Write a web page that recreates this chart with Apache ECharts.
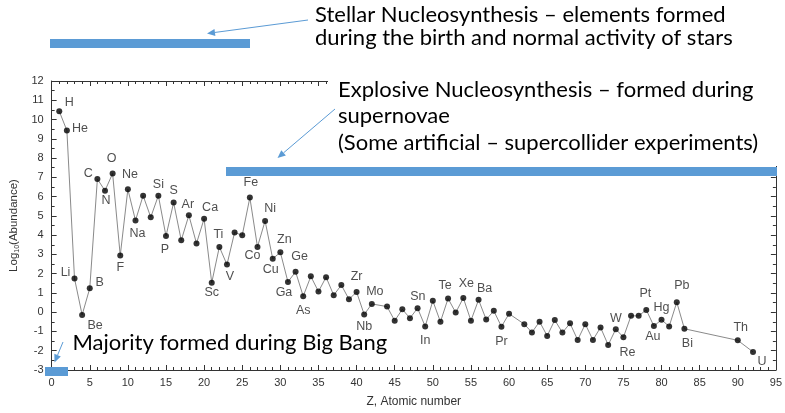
<!DOCTYPE html>
<html>
<head>
<meta charset="utf-8">
<script src="https://cdn.jsdelivr.net/npm/echarts/dist/echarts.min.js"></script>
<style>
  html, body { margin: 0; padding: 0; background: #fff; }
  #chart { width: 785px; height: 413px; }
</style>
</head>
<body>
<div id="chart"></div>
<script>
// elements (Z, symbol) and log10 abundance
var atomicNumbers = [1, 2, 3, 4, 5, 6, 7, 8, 9, 10, 11, 12, 13, 14, 15, 16, 17, 18, 19, 20,
  21, 22, 23, 24, 25, 26, 27, 28, 29, 30, 31, 32, 33, 34, 35, 36, 37, 38, 39, 40,
  41, 42, 44, 45, 46, 47, 48, 49, 50, 51, 52, 53, 54, 55, 56, 57, 58, 59, 60,
  62, 63, 64, 65, 66, 67, 68, 69, 70, 71, 72, 73, 74, 75, 76, 77, 78, 79, 80,
  81, 82, 83, 90, 92];
var symbols = ["H", "He", "Li", "Be", "B", "C", "N", "O", "F", "Ne", "Na", "Mg", "Al", "Si", "P", "S", "Cl", "Ar", "K", "Ca",
  "Sc", "Ti", "V", "Cr", "Mn", "Fe", "Co", "Ni", "Cu", "Zn", "Ga", "Ge", "As", "Se", "Br", "Kr", "Rb", "Sr", "Y", "Zr",
  "Nb", "Mo", "Ru", "Rh", "Pd", "Ag", "Cd", "In", "Sn", "Sb", "Te", "I", "Xe", "Cs", "Ba", "La", "Ce", "Pr", "Nd",
  "Sm", "Eu", "Gd", "Tb", "Dy", "Ho", "Er", "Tm", "Yb", "Lu", "Hf", "Ta", "W", "Re", "Os", "Ir", "Pt", "Au", "Hg",
  "Tl", "Pb", "Bi", "Th", "U"];
var logAbundance = [10.43, 9.43, 1.75, -0.14, 1.24, 6.91, 6.31, 7.20, 2.94, 6.38, 4.76, 6.05, 4.93, 6.05, 3.95, 5.69, 3.73, 5.03, 3.57, 4.85,
  1.53, 3.39, 2.47, 4.14, 3.99, 5.95, 3.39, 4.74, 2.77, 3.11, 1.57, 2.10, 0.83, 1.86, 1.07, 1.82, 0.88, 1.41, 0.67, 1.05,
  -0.12, 0.43, 0.29, -0.44, 0.15, -0.31, 0.21, -0.74, 0.59, -0.50, 0.71, -0.02, 0.74, -0.44, 0.64, -0.38, 0.07, -0.75, -0.08,
  -0.62, -1.05, -0.49, -1.23, -0.41, -1.06, -0.58, -1.44, -0.62, -1.44, -0.79, -1.70, -0.88, -1.30, -0.19, -0.19, 0.12, -0.72, -0.39,
  -0.74, 0.52, -0.86, -1.46, -2.06];

// which symbols get a text label, and where it sits relative to the dot (px)
var labelOffsets = {
  H: [10, -9], He: [13, -2], Li: [-9, -6], Be: [13, 11], B: [10, -6], C: [-9, -6], N: [1, 10], O: [-1, -15],
  F: [0, 12], Ne: [2, -15], Na: [2, 13], Si: [0, -11], P: [-1, 13], S: [0, -12], Ar: [-1, -11], Ca: [6, -11],
  Sc: [0, 10], Ti: [-1, -12], V: [3, 12], Fe: [1, -15], Co: [-5, 9], Ni: [5, -12], Cu: [-2, 11], Zn: [4, -13],
  Ga: [-4, 11], Ge: [4, -15], As: [0, 14], Zr: [0, -15], Nb: [0, 12], Mo: [3, -12], Sn: [-15, -4], In: [0, 14],
  Te: [-3, -13], Xe: [3, -14], Ba: [6, -11], Pr: [0, 15], W: [0, -11], Re: [4, 15], Pt: [-1, -16], Hg: [0, -12],
  Au: [-1, 10], Pb: [5, -17], Bi: [3, 15], Th: [3, -13], U: [9, 10]
};

var blue = "#5B9BD5";
var textFont = "22px Lato";

function arrow(x1, y1, x2, y2) {
  var ang = Math.atan2(y2 - y1, x2 - x1);
  var len = 8, half = 3.5;
  var bx = x2 - len * Math.cos(ang), by = y2 - len * Math.sin(ang);
  var px = -Math.sin(ang) * half, py = Math.cos(ang) * half;
  return [
    { type: "line", z: 100, shape: { x1: x1, y1: y1, x2: bx, y2: by }, style: { stroke: blue, lineWidth: 1 } },
    { type: "polygon", z: 100, shape: { points: [[x2, y2], [bx + px, by + py], [bx - px, by - py]] }, style: { fill: blue } }
  ];
}

function note(str, x, y) {
  return { type: "text", z: 102, x: x, y: y, style: { text: str, font: textFont, fill: "#000", verticalAlign: "middle" } };
}

var chart = echarts.init(document.getElementById("chart"));

var lineData = atomicNumbers.map(function (z, i) {
  return [z, logAbundance[i]];
});
var dotData = atomicNumbers.map(function (z, i) {
  var off = labelOffsets[symbols[i]];
  var item = { value: [z, logAbundance[i]], name: symbols[i] };
  if (off) {
    item.label = { show: true, position: "inside", offset: off, formatter: symbols[i] };
  }
  return item;
});

var axisCommon = {
  axisLine: { show: true, onZero: false, lineStyle: { color: "#333", width: 1 } },
  axisTick: { show: true, inside: true, length: 5, lineStyle: { color: "#333" } },
  minorTick: { show: true, length: 3, lineStyle: { color: "#333" } },
  splitLine: { show: false },
  minorSplitLine: { show: false }
};

var option = {
  animation: false,
  backgroundColor: "#fff",
  grid: { left: 48, right: 6, top: 81, bottom: 41 },
  xAxis: [
    Object.assign({}, axisCommon, {
      type: "value", position: "bottom", min: 0, max: 95, interval: 5,
      minorTick: Object.assign({}, axisCommon.minorTick, { splitNumber: 5 }),
      axisLabel: { color: "#333", fontSize: 11, fontFamily: "Liberation Sans", margin: 7 },
      name: "Z, Atomic number", nameLocation: "middle", nameGap: 26,
      nameTextStyle: { color: "#333", fontSize: 12, fontFamily: "Liberation Sans" }
    }),
    Object.assign({}, axisCommon, {
      type: "value", position: "top", min: 0, max: 95, interval: 5,
      minorTick: Object.assign({}, axisCommon.minorTick, { splitNumber: 5 }),
      axisLabel: { show: false }
    })
  ],
  yAxis: [
    Object.assign({}, axisCommon, {
      type: "value", position: "left", min: -3, max: 12, interval: 1,
      minorTick: Object.assign({}, axisCommon.minorTick, { splitNumber: 2 }),
      axisLabel: { color: "#333", fontSize: 11, fontFamily: "Liberation Sans", margin: 8 },
      name: "{n|Log}{s|10}{n|(Abundance)}", nameLocation: "middle", nameGap: 28,
      nameTextStyle: {
        color: "#333",
        rich: {
          n: { fontSize: 11.5, fontFamily: "Liberation Sans", color: "#333" },
          s: { fontSize: 7, fontFamily: "Liberation Sans", color: "#333", padding: [6, 0, 0, 0] }
        }
      }
    }),
    Object.assign({}, axisCommon, {
      type: "value", position: "right", min: -3, max: 12, interval: 1,
      minorTick: Object.assign({}, axisCommon.minorTick, { splitNumber: 2 }),
      axisLabel: { show: false }
    })
  ],
  series: [
    {
      type: "line",
      data: lineData,
      showSymbol: false,
      silent: true,
      lineStyle: { color: "#8a8a8a", width: 1 },
      z: 2
    },
    {
      type: "scatter",
      data: dotData,
      symbolSize: 6,
      itemStyle: { color: "#000" },
      label: { show: false, color: "#222", fontSize: 12.5, fontFamily: "Liberation Sans" },
      z: 3
    }
  ],
  graphic: [].concat(
    [
      // text box covering the top-right of the frame
      { type: "rect", z: 99, shape: { x: 328, y: 70, width: 457, height: 96 }, style: { fill: "#fff" } },
      { type: "rect", z: 101, shape: { x: 50, y: 39, width: 200, height: 9 }, style: { fill: blue } },
      { type: "rect", z: 101, shape: { x: 226, y: 167, width: 551, height: 9 }, style: { fill: blue } },
      { type: "rect", z: 101, shape: { x: 45, y: 367, width: 23, height: 9 }, style: { fill: blue } }
    ],
    arrow(308, 20, 207, 33.5),
    arrow(335, 109, 277.5, 158),
    arrow(63, 342, 54.5, 362.5),
    [
      note("Stellar Nucleosynthesis \u2013 elements formed", 315, 14.7),
      note("during the birth and normal activity of stars", 315, 38),
      note("Explosive Nucleosynthesis \u2013 formed during", 338, 89.7),
      note("supernovae", 338, 116.3),
      note("(Some artificial \u2013 supercollider experiments)", 338, 143),
      note("Majority formed during Big Bang", 72.5, 343)
    ]
  )
};

chart.setOption(option);
</script>
</body>
</html>
